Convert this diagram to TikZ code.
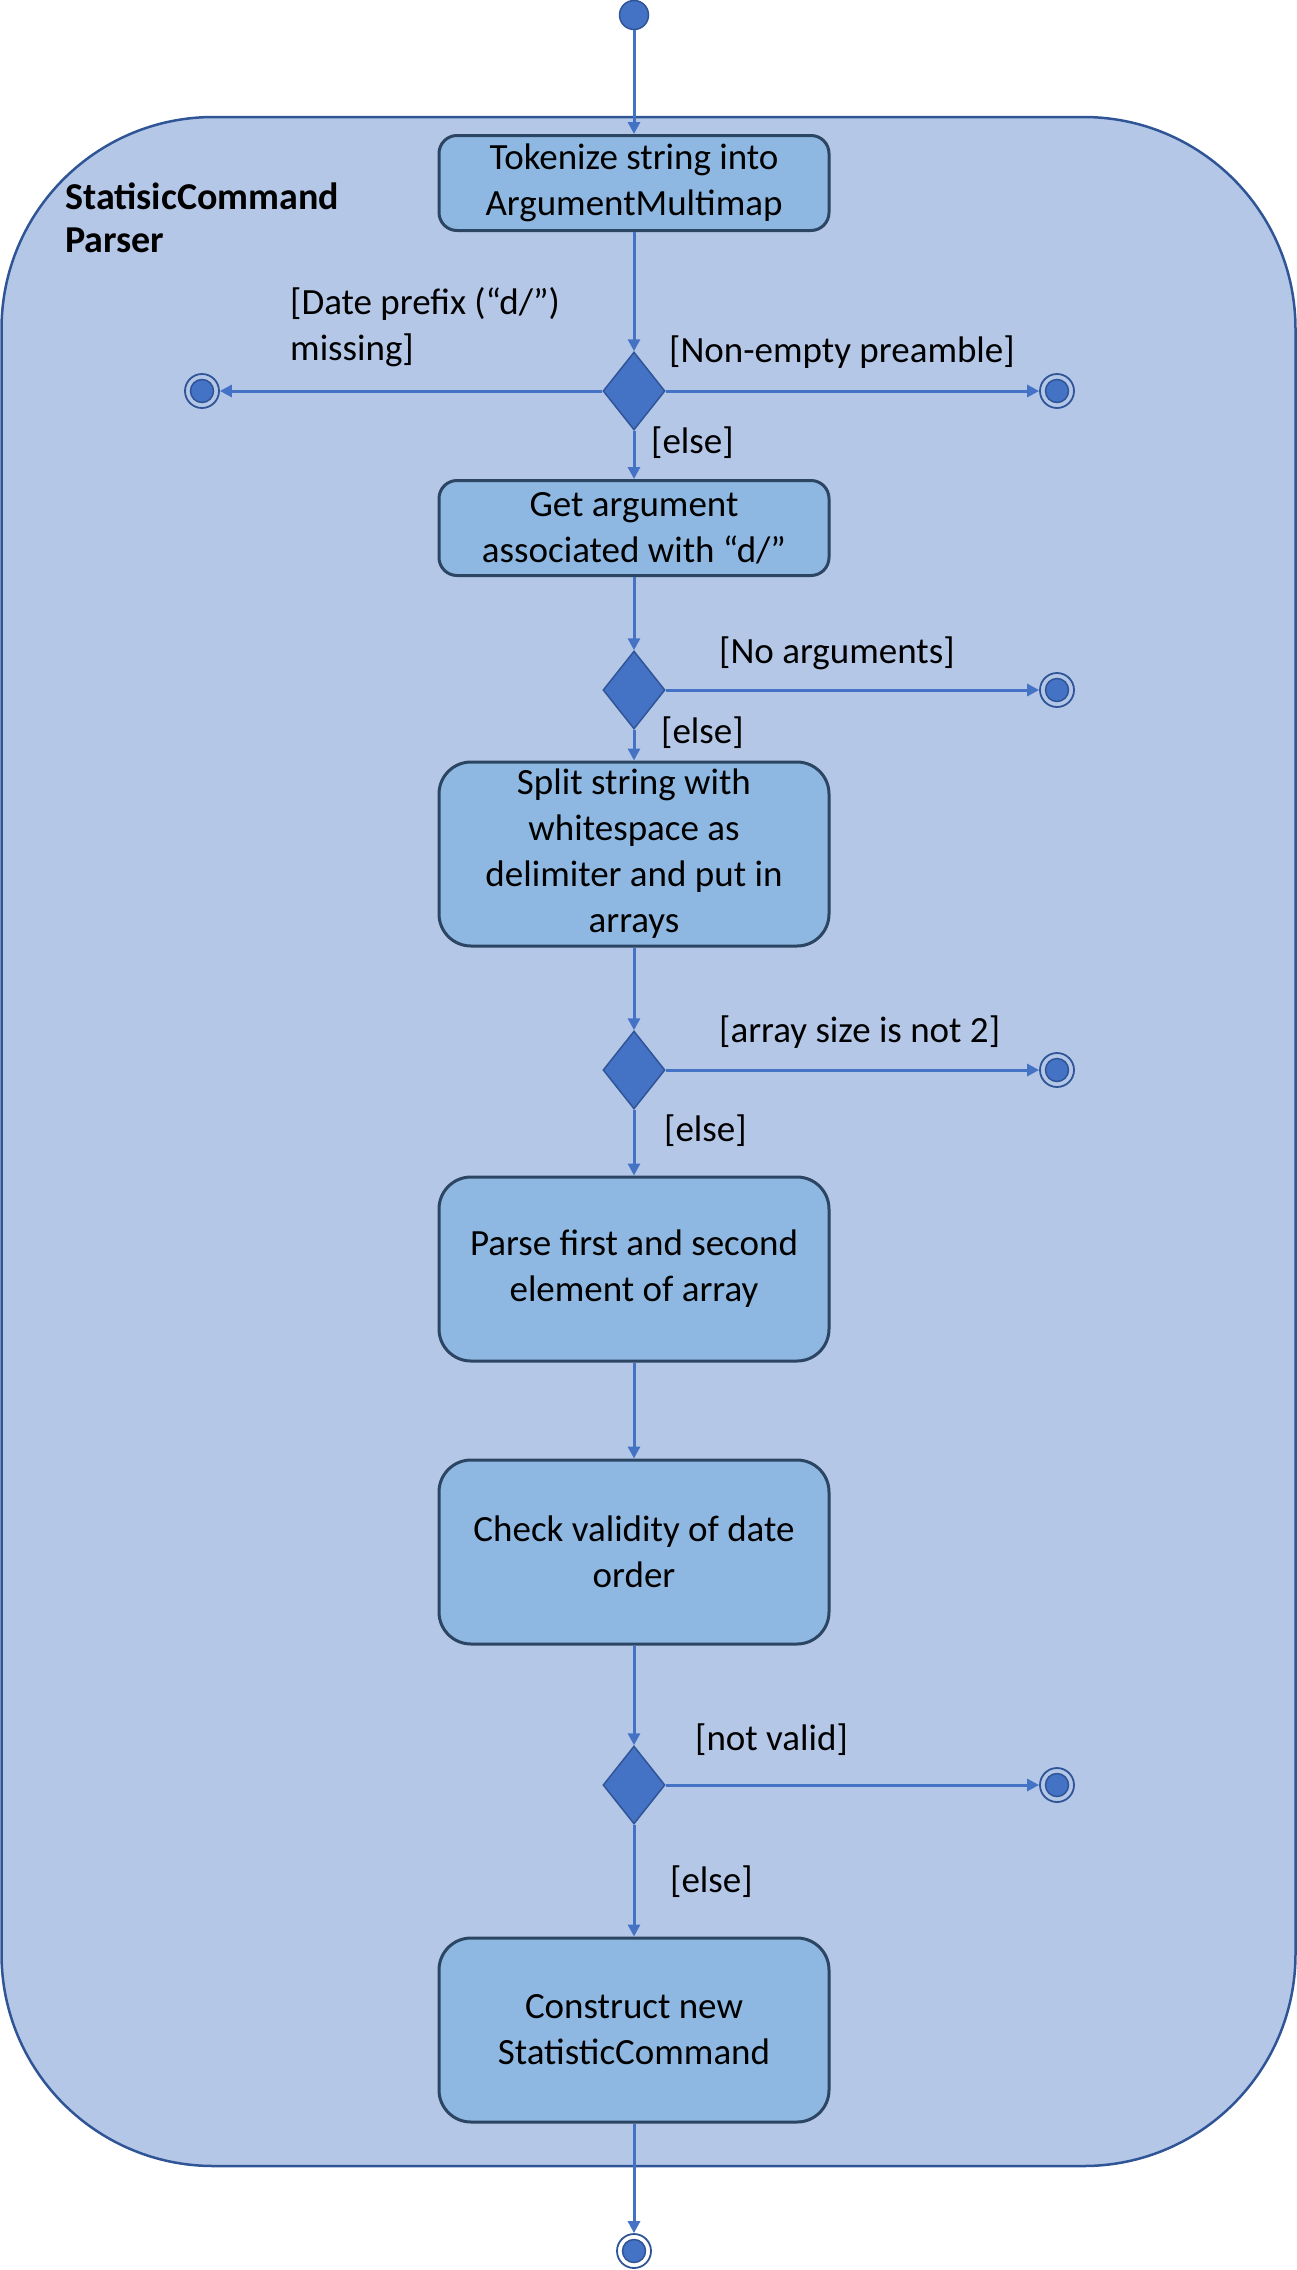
\documentclass[tikz,border=0pt]{standalone}
\usepackage{fontspec}
\setmainfont{Carlito}
\usetikzlibrary{shapes.geometric, arrows.meta}

\definecolor{framefill}{HTML}{B4C7E7}
\definecolor{frameline}{HTML}{2F5597}
\definecolor{boxfill}{HTML}{8EB8E1}
\definecolor{boxline}{HTML}{2B4562}
\definecolor{accent}{HTML}{4472C4}

\begin{document}
\begin{tikzpicture}[x=1pt, y=-1pt,
    font=\fontsize{37}{46}\selectfont,
    action/.style={rectangle, rounded corners=32pt, draw=boxline, line width=3pt, fill=boxfill, minimum width=390pt, minimum height=184pt, align=center, inner sep=0pt},
    shortaction/.style={action, rounded corners=18pt, minimum height=95pt},
    decision/.style={diamond, draw=frameline, line width=1.5pt, fill=accent, minimum width=62pt, minimum height=78pt, inner sep=0pt},
    initial/.style={circle, draw=frameline, line width=1.5pt, fill=accent, minimum size=29pt, inner sep=0pt},
    final/.style={circle, draw=frameline, line width=1.8pt, fill=framefill, minimum size=34pt, inner sep=0pt,
        path picture={\fill[accent, draw=frameline, line width=1.5pt] (path picture bounding box.center) circle (11.5pt);}},
    guard/.style={anchor=base west, inner sep=0pt},
    flow/.style={draw=accent, line width=3pt, -{Triangle[length=12pt, width=12pt]}}
]
            \useasboundingbox (0,0) rectangle (1297,2270);

            %swimlane
            \draw[fill=framefill, draw=frameline, line width=2.5pt, rounded corners=212pt] (1.5,117) rectangle (1295.5,2166);
            \node[anchor=north west, align=left, inner sep=0pt, font=\fontsize{38}{43}\selectfont\bfseries] (title) at (65, 183) {StatisicCommand\\Parser};

            %nodes
            \node[initial] (start) at (634, 15) {};
            \node[shortaction] (tokenize) at (634, 183) {Tokenize string into\\ArgumentMultimap};
            \node[decision] (d1) at (634, 391) {};
            \node[final] (endL) at (202, 391) {};
            \node[final] (endR1) at (1057, 391) {};
            \node[shortaction] (getarg) at (634, 528) {Get argument\\associated with “d/”};
            \node[decision] (d2) at (634, 690) {};
            \node[final] (endR2) at (1057, 690) {};
            \node[action] (split) at (634, 854) {Split string with\\whitespace as\\delimiter and put in\\arrays};
            \node[decision] (d3) at (634, 1070) {};
            \node[final] (endR3) at (1057, 1070) {};
            \node[action] (parse) at (634, 1269) {Parse first and second\\element of array};
            \node[action] (check) at (634, 1552) {Check validity of date\\order};
            \node[decision] (d4) at (634, 1785) {};
            \node[final] (endR4) at (1057, 1785) {};
            \node[action] (construct) at (634, 2030) {Construct new\\StatisticCommand};
            \node[final, fill=white] (endB) at (634, 2251) {};

            %guards
            \node[anchor=north west, align=left, inner sep=0pt] (gmissing) at (290, 287) {[Date prefix (“d/”)\\missing]};
            \node[guard] (gpreamble) at (669, 362) {[Non-empty preamble]};
            \node[guard] (gelse1) at (651, 453) {[else]};
            \node[guard] (gnoarg) at (719, 663) {[No arguments]};
            \node[guard] (gelse2) at (661, 743) {[else]};
            \node[guard] (gsize) at (719, 1042) {[array size is not 2]};
            \node[guard] (gelse3) at (664, 1141) {[else]};
            \node[guard] (gvalid) at (695, 1750) {[not valid]};
            \node[guard] (gelse4) at (670, 1892) {[else]};

            %edges
            \draw[flow] (start) -- (tokenize);
            \draw[flow] (tokenize) -- (d1);
            \draw[flow] (d1) -- (endL);
            \draw[flow] (d1) -- (endR1);
            \draw[flow] (d1) -- (getarg);
            \draw[flow] (getarg) -- (d2);
            \draw[flow] (d2) -- (endR2);
            \draw[flow] (d2) -- (split);
            \draw[flow] (split) -- (d3);
            \draw[flow] (d3) -- (endR3);
            \draw[flow] (d3) -- (parse);
            \draw[flow] (parse) -- (check);
            \draw[flow] (check) -- (d4);
            \draw[flow] (d4) -- (endR4);
            \draw[flow] (d4) -- (construct);
            \draw[flow] (construct) -- (endB);
        \end{tikzpicture}
\end{document}
